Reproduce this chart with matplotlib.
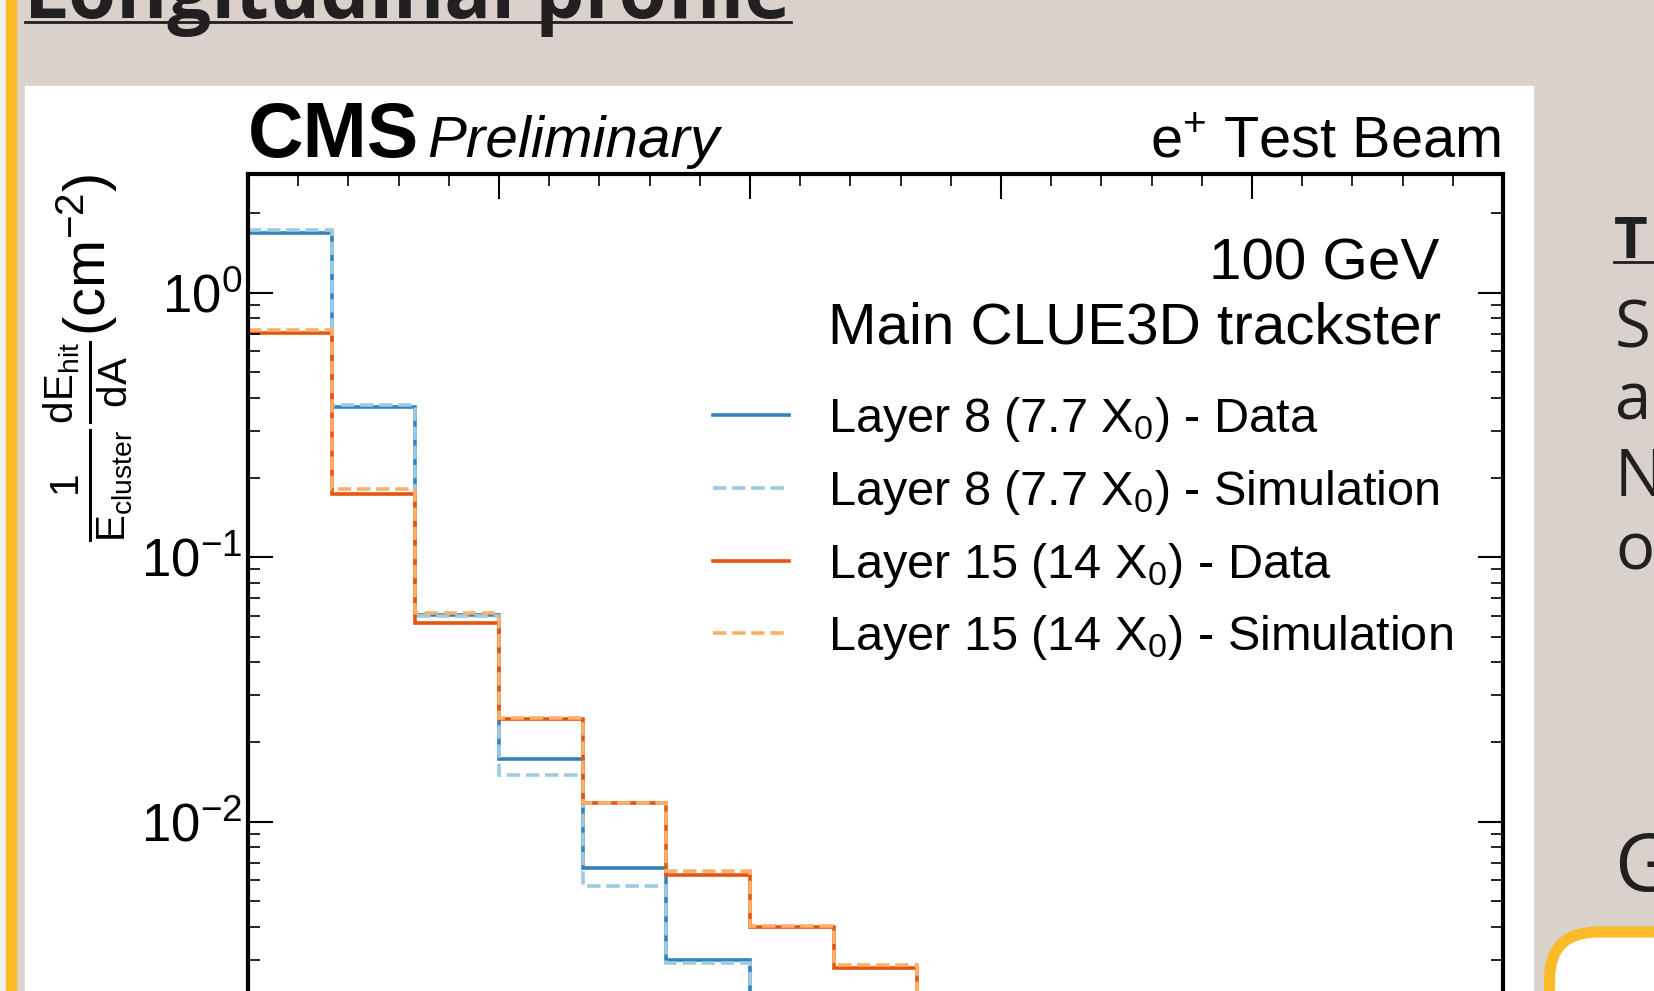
import math
import matplotlib
matplotlib.use("Agg")
import matplotlib.pyplot as plt
from matplotlib.patches import Rectangle, FancyBboxPatch
from matplotlib.lines import Line2D
from matplotlib.transforms import IdentityTransform
from matplotlib.ticker import MultipleLocator, LogLocator, NullFormatter

plt.rcParams['font.family'] = ['Liberation Sans', 'DejaVu Sans']
plt.rcParams['mathtext.fontset'] = 'custom'
plt.rcParams['mathtext.rm'] = 'Liberation Sans'
plt.rcParams['mathtext.it'] = 'Liberation Sans:italic'
plt.rcParams['mathtext.bf'] = 'Liberation Sans:bold'
plt.rcParams['mathtext.default'] = 'regular'

# radial bins (only the first ones are visible in the crop)
bin_edges = [0, 1, 2, 3, 4, 5, 6, 7, 8, 9, 10, 11, 12, 13, 14, 15]

# 1/E dE/dA per bin (cm^-2)
l8_data = [1.68, 0.371, 0.0607, 0.0172, 0.00671, 0.00300, 0.0013]
l8_sim = [1.72, 0.377, 0.0598, 0.0150, 0.00569, 0.00292, 0.0012]
l15_data = [0.704, 0.174, 0.0565, 0.0244, 0.01175, 0.00628, 0.00399, 0.00280, 0.0013]
l15_sim = [0.723, 0.181, 0.0616, 0.0246, 0.0118, 0.00649, 0.00403, 0.00288, 0.0013]

labels = [r'Layer 8 (7.7 X$_0$) - Data', r'Layer 8 (7.7 X$_0$) - Simulation',
          r'Layer 15 (14 X$_0$) - Data', r'Layer 15 (14 X$_0$) - Simulation']
colors = ['#3182bd', '#9ecae1', '#e6550d', '#fdae6b']
styles = ['-', '--', '-', '--']

W, H = 1654, 991
def fx(px):
    return px / W
def fy(py):
    return 1 - py / H

fig = plt.figure(figsize=(W / 100, H / 100), dpi=100)
fig.patch.set_facecolor('#d9d1cc')

# poster decoration around the plot
fig.add_artist(Rectangle((0, 0), fx(6), 1, transform=fig.transFigure, color='#f1efed', zorder=0))
fig.add_artist(Rectangle((fx(6), 0), fx(16) - fx(6), 1, transform=fig.transFigure, color='#fbbb28', zorder=0))
fig.add_artist(Rectangle((fx(25), 0), fx(1533) - fx(25), fy(86), transform=fig.transFigure,
                         color='white', zorder=0))
fig.text(fx(24), fy(18), 'Longitudinal profile', fontsize=56, fontweight='bold',
         family='Open Sans', color='#231f20', va='baseline', ha='left')
fig.add_artist(Line2D([fx(25), fx(791)], [fy(22), fy(22)], transform=fig.transFigure,
                      color='#231f20', lw=2))

fig.text(fx(1614), fy(258), 'T', fontsize=42, fontweight='bold', family='Open Sans',
         color='#231f20', va='baseline')
fig.add_artist(Line2D([fx(1614), 1], [fy(262), fy(262)], transform=fig.transFigure,
                      color='#231f20', lw=2))
for ch, yb in zip(['S', 'a', 'N', 'o'], [348, 420, 496, 570]):
    fig.text(fx(1615), fy(yb), ch, fontsize=47, family='Open Sans', color='#231f20',
             va='baseline')
fig.text(fx(1614), fy(891), 'G', fontsize=58, family='Open Sans', color='#231f20',
         va='baseline')
fig.add_artist(FancyBboxPatch((1549.5, -241), 400, 300, boxstyle='round,pad=0,rounding_size=48',
                              transform=IdentityTransform(), lw=8, ec='#fbbb28', fc='white'))

# main axes (its lower part lies below the visible crop)
ymin, ymax = 1.5e-3, 2.81
top_px, decade_px = 174, 264.5
height_px = (math.log10(ymax) - math.log10(ymin)) * decade_px
ax = fig.add_axes([fx(248), fy(top_px + height_px), fx(1503) - fx(248), height_px / H])

for vals, col, ls, lab in zip([l8_data, l8_sim, l15_data, l15_sim], colors, styles, labels):
    ax.stairs(vals, bin_edges[:len(vals) + 1], color=col, linestyle=ls, lw=2.6, label=lab,
              baseline=None)

ax.set_yscale('log')
ax.set_ylim(ymin, ymax)
ax.set_xlim(0, 15)
ax.xaxis.set_major_locator(MultipleLocator(3))
ax.xaxis.set_minor_locator(MultipleLocator(0.6))
ax.yaxis.set_major_locator(LogLocator(base=10))
ax.yaxis.set_minor_locator(LogLocator(base=10, subs=[2, 3, 4, 5, 6, 7, 8, 9]))
ax.yaxis.set_minor_formatter(NullFormatter())
ax.tick_params(which='both', direction='in', top=True, right=True, labelsize=38, pad=4,
               labelbottom=False)
ax.tick_params(which='major', length=18, width=1.5)
ax.tick_params(which='minor', length=8.5, width=1.2)
for s in ax.spines.values():
    s.set_linewidth(3)

ax.set_ylabel(r'$\frac{1}{E_{cluster}}\frac{dE_{hit}}{dA}(cm^{-2})$', fontsize=41.5, loc='top')
ax.yaxis.set_label_coords((135 - 248) / 1255, 1.0)

ax.legend(loc='upper left', bbox_to_anchor=(fx(713), fy(395)), bbox_transform=fig.transFigure,
          frameon=False, fontsize=35, handlelength=1.56, handletextpad=0.8,
          labelspacing=0.49, borderpad=0, borderaxespad=0)

fig.text(fx(1439), fy(279.5), '100 GeV', fontsize=42, ha='right', va='baseline')
fig.text(fx(1441), fy(343), 'Main CLUE3D trackster', fontsize=42, ha='right', va='baseline')

fig.text(fx(248), fy(157), 'CMS', fontsize=55.5, fontweight='bold', ha='left', va='baseline')
fig.text(fx(427), fy(157), 'Preliminary', fontsize=42, style='italic', ha='left', va='baseline')
fig.text(fx(1501), fy(157), r'e$^{+}$ Test Beam', fontsize=41.5, ha='right', va='baseline')

fig.savefig('out.png', dpi=100)
